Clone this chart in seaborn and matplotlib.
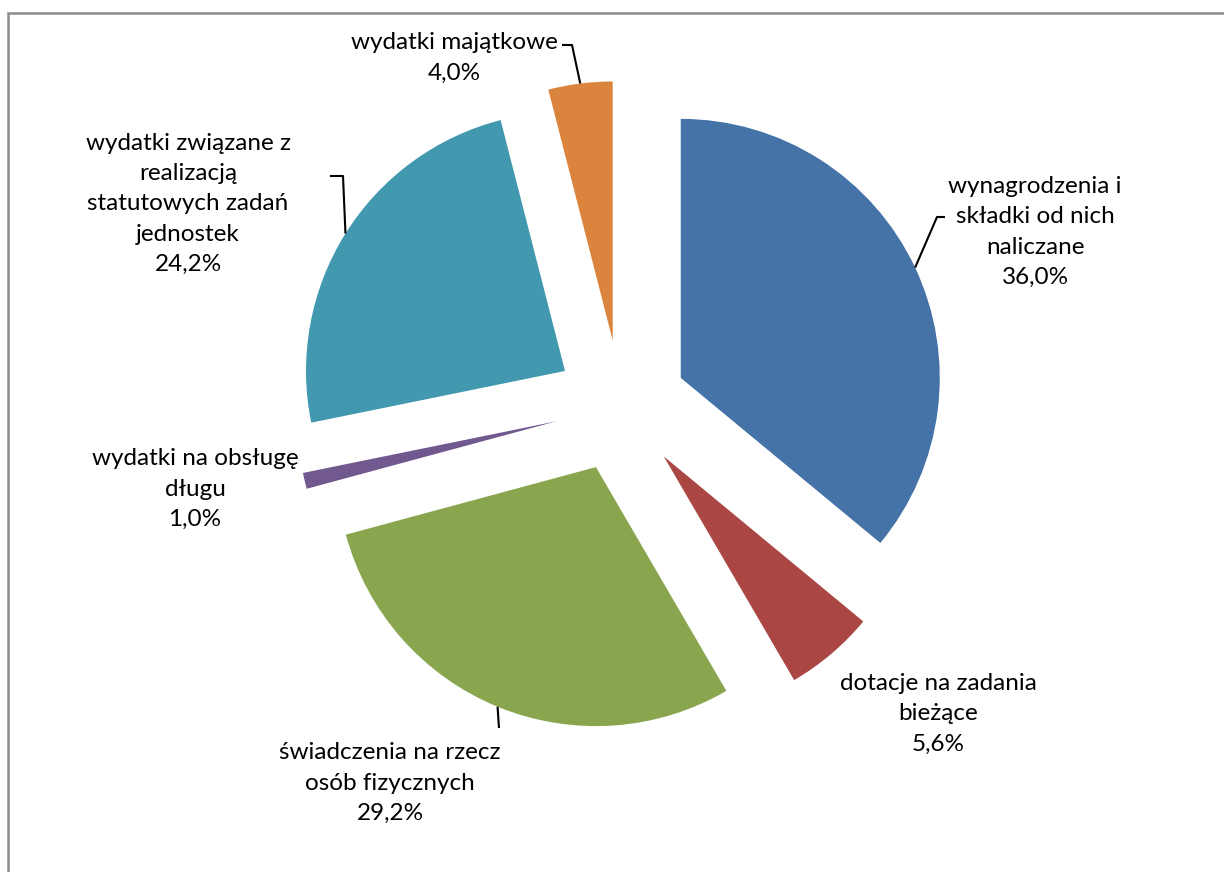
import numpy as np
import matplotlib
matplotlib.use("Agg")
import matplotlib.pyplot as plt
import matplotlib.patches as mpatches
import seaborn as sns

sns.set_theme(style="white")
plt.rcParams["font.family"] = ["Lato", "DejaVu Sans"]

# Dane (udziały w %)
kategorie = [
    "wynagrodzenia i\nskładki od nich\nnaliczane",
    "dotacje na zadania\nbieżące",
    "świadczenia na rzecz\nosób fizycznych",
    "wydatki na obsługę\ndługu",
    "wydatki związane z\nrealizacją\nstatutowych zadań\njednostek",
    "wydatki majątkowe",
]
udzialy = [36.0, 5.6, 29.2, 1.0, 24.2, 4.0]
kolory = ["#4572A7", "#AA4643", "#89A54E", "#71588F", "#4198AF", "#DB843D"]

# Układ (px obrazu -> jednostki promienia)
W, H = 1224, 872
CX, CY, R_PX = 621, 406, 259
EXPLODE = 0.255


def px(x, y):
    return (x - CX) / R_PX, (CY - y) / R_PX


# środki etykiet (px)
label_pos = [(1035, 232), (938, 714), (390, 783), (195, 489), (188, 204), (454, 58)]
# punkty łamania linii odniesienia (px), None = brak linii
leader_pts = [
    [(937, 217), (945, 217)],
    None,
    [(499, 728)],
    None,
    [(343, 176), (330, 176)],
    [(572, 45), (562, 45)],
]

fig = plt.figure(figsize=(W / 100, H / 100), dpi=100)
ax = fig.add_axes([0, 0, 1, 1])

wedges, _ = ax.pie(
    udzialy,
    colors=kolory,
    startangle=90,
    counterclock=False,
    explode=[EXPLODE] * len(udzialy),
    wedgeprops=dict(linewidth=0),
)

for w, lab, val, pos, pts in zip(wedges, kategorie, udzialy, label_pos, leader_pts):
    tx, ty = px(*pos)
    txt = f"{lab}\n{val:.1f}%".replace(".", ",")
    ax.text(tx, ty, txt, ha="center", va="center", fontsize=17.5,
            linespacing=1.55, color="#000000")
    if pts is not None:
        mid = np.deg2rad((w.theta1 + w.theta2) / 2)
        sx, sy = (1 + EXPLODE) * np.cos(mid), (1 + EXPLODE) * np.sin(mid)
        xs = [sx] + [px(*p)[0] for p in pts]
        ys = [sy] + [px(*p)[1] for p in pts]
        ax.plot(xs, ys, color="black", lw=1.5, solid_capstyle="butt")

ax.set_xlim(-CX / R_PX, (W - CX) / R_PX)
ax.set_ylim(-(H - CY) / R_PX, CY / R_PX)
ax.set_aspect("auto")
ax.axis("off")

# ramka obszaru wykresu
fig.add_artist(mpatches.Rectangle(
    (8 / W, -0.2), 1.2, 1.2 - 13 / H,
    transform=fig.transFigure, fill=False, edgecolor="#8c8c8c", lw=1.8, clip_on=False))

fig.savefig("out.png", dpi=100, facecolor="white")
